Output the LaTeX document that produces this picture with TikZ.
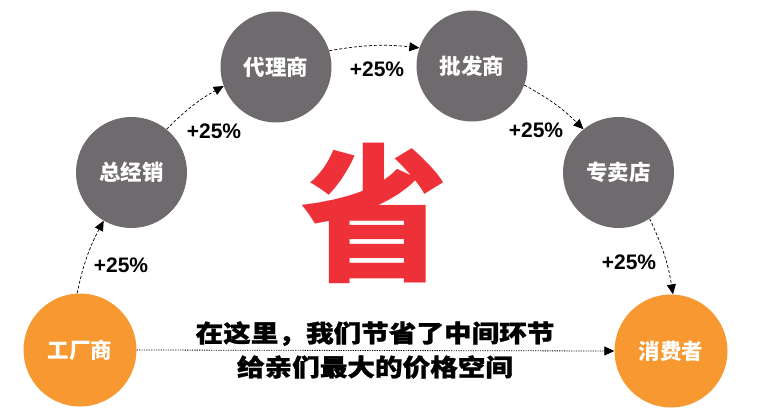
\documentclass[tikz,border=0pt]{standalone}
\usepackage{fontspec}
\setmainfont{Liberation Sans}
\newfontfamily\cjk{Noto Sans CJK SC}
\newfontfamily\cjkwide{Noto Sans CJK SC}[FakeStretch=1.15, FakeBold=1.2]
\usepackage{tikz}
\usetikzlibrary{arrows.meta, positioning, calc}
\usepackage{xcolor}
\definecolor{stagegray}{RGB}{111,106,109}
\definecolor{endorange}{RGB}{247,152,48}
\definecolor{saved}{RGB}{238,48,56}

\begin{document}
\begin{tikzpicture}[
    x=1pt, y=1pt,
    stage/.style={circle, fill=stagegray, minimum size=111pt, inner sep=0pt,
                  text=white, font=\cjk\bfseries\fontsize{21.5}{24}\selectfont},
    endpt/.style={stage, fill=endorange, minimum size=113pt},
    markup/.style={font=\bfseries\fontsize{21}{24}\selectfont},
    arr/.style={-{Triangle[length=10pt, width=9pt]}, line width=0.7pt,
                dash pattern=on 3pt off 2pt, bend left=8},
]
    \useasboundingbox (0,0) rectangle (776,418);

    % Stages
    \node[endpt] (fac) at (80,68) {工厂商};
    \node[stage] (gen) at (131.5,245.5) {总经销};
    \node[stage] (agt) at (276,351) {代理商};
    \node[stage] (whl) at (472,352) {批发商};
    \node[stage] (sto) at (618.5,245.5) {专卖店};
    \node[endpt] (con) at (671,67) {消费者};

    % Middle
    \node[text=saved, font=\cjk\bfseries\fontsize{148}{148}\selectfont] (sheng) at (374,205) {省};
    \node[align=center, font=\cjkwide\bfseries\fontsize{24}{34}\selectfont] (msg) at (375,68)
        {在这里，我们节省了中间环节\\给亲们最大的价格空间};

    % Connections
    \draw[arr] (fac.93) to (gen.240);
    \draw[arr] (gen.51) to (agt.200);
    \draw[arr] (agt.17) to (whl.161);
    \draw[arr] (whl.-20) to (sto.129);
    \draw[arr] (sto.-56) to (con.88);
    \draw[arr, bend left=0, line width=0.8pt, dash pattern=on 1.2pt off 1.2pt] (fac.east) -- (con.west);

    % Markups
    \node[markup] (m1) at (121,153) {+25\%};
    \node[markup] (m2) at (214,287) {+25\%};
    \node[markup] (m3) at (377,349) {+25\%};
    \node[markup] (m4) at (536,288) {+25\%};
    \node[markup] (m5) at (629,156) {+25\%};
\end{tikzpicture}
\end{document}
